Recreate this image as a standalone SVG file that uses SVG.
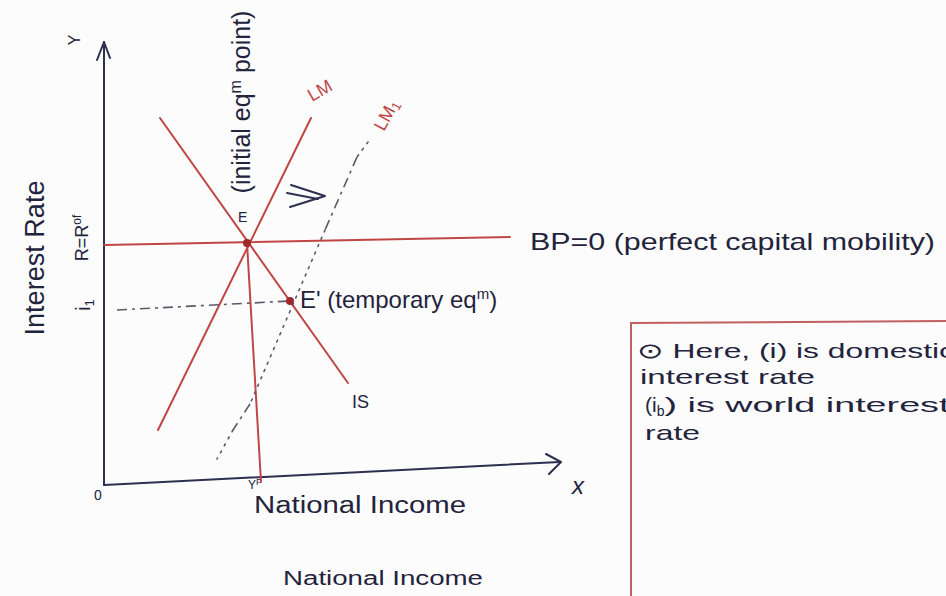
<svg xmlns="http://www.w3.org/2000/svg" width="946" height="596" viewBox="0 0 946 596">
<style>
.ax{stroke:#2d3050;stroke-width:2;fill:none;stroke-linecap:round;stroke-linejoin:round}
.rd{stroke:#c04545;stroke-width:2;fill:none;stroke-linecap:round}
.dt{stroke:#5a5a6a;stroke-width:1.6;fill:none;stroke-dasharray:2 6;stroke-linecap:round}
.ds{stroke:#5a5a6a;stroke-width:1.6;fill:none;stroke-dasharray:10 5 3 5}
.t{font-family:"Liberation Sans","DejaVu Sans",sans-serif;fill:#23233c}
.tr{font-family:"Liberation Sans","DejaVu Sans",sans-serif;fill:#c04545}
</style>
<rect width="946" height="596" fill="#fcfcfc"/>
<g id="axes">
<path class="ax" d="M104,485 L104,42"/>
<path class="ax" d="M97,60 L104,42 L110,58"/>
<path class="ax" d="M104,485 L560,462"/>
<path class="ax" d="M546,454 L561,462 L549,474"/>
<text class="t" font-size="16" transform="translate(80,40) rotate(-90)" text-anchor="middle">Y</text>
<text class="t" font-size="14" x="94" y="500">0</text>
<text class="t" font-size="24" x="572" y="494" font-style="italic">x</text>
<text class="t" font-size="12" x="248" y="489">Y<tspan font-size="9" dy="-4">F</tspan></text>
<text class="t" font-size="23" x="254" y="513" textLength="212" lengthAdjust="spacingAndGlyphs">National Income</text>
<text class="t" font-size="20" x="283" y="585" textLength="200" lengthAdjust="spacingAndGlyphs">National Income</text>
<text class="t" font-size="27" transform="translate(44,258) rotate(-90)" text-anchor="middle" textLength="155" lengthAdjust="spacingAndGlyphs">Interest Rate</text>
<text class="t" font-size="18" transform="translate(88,238) rotate(-90)" text-anchor="middle">R=R<tspan font-size="12" dy="-7">of</tspan></text>
<text class="t" font-size="20" transform="translate(90,305) rotate(-90)" text-anchor="middle">i<tspan font-size="13" dy="4">1</tspan></text>
</g>
<g id="connectors">
<path class="rd" d="M104,245 L510,237"/>
<path class="rd" d="M160,118 L348,383"/>
<path class="rd" d="M158,430 L311,118"/>
<path class="rd" d="M247,243 L261,482"/>
<path class="ds" d="M117,310 L290,301"/>
<path class="ds" d="M357,157 L325,230"/>
<path class="dt" d="M368,142 L357,157 M325,230 L250,404"/>
<path class="ds" d="M250,404 L233,430"/>
<path class="dt" d="M233,430 L217,459"/>
<path class="ax" d="M291,185 L325,196 L290,207"/>
<path class="ax" d="M287,193 L318,199"/>
</g>
<g id="E">
<circle cx="247" cy="243" r="4" fill="#a02828"/>
<text class="t" font-size="14" x="238" y="222">E</text>
<text class="t" font-size="25" transform="translate(250,102) rotate(-90)" text-anchor="middle">(initial eq<tspan font-size="16" dy="-9">m</tspan><tspan dy="9"> point)</tspan></text>
</g>
<g id="E1">
<circle cx="290" cy="301" r="4" fill="#a02828"/>
<text class="t" font-size="24" x="300" y="308">E' (temporary eq<tspan font-size="15" dy="-9">m</tspan><tspan dy="9">)</tspan></text>
</g>
<g id="IS"><text class="t" font-size="18" x="352" y="408">IS</text></g>
<g id="LM"><text class="tr" font-size="18" transform="translate(312,102) rotate(-30)">LM</text></g>
<g id="LM1"><text class="tr" font-size="18" transform="translate(384,132) rotate(-62)">LM<tspan font-size="13" dy="3">1</tspan></text></g>
<g id="BP"><text class="t" font-size="24" x="530" y="250" textLength="405" lengthAdjust="spacingAndGlyphs">BP=0 (perfect capital mobility)</text></g>
<g id="note">
<path d="M631,596 L631,323 L946,321" fill="none" stroke="#c06060" stroke-width="2"/>
<text class="t" font-size="21" x="637" y="358" textLength="318" lengthAdjust="spacingAndGlyphs">⊙ Here, (i) is domestic</text>
<text class="t" font-size="21" x="640" y="384" textLength="175" lengthAdjust="spacingAndGlyphs">interest rate</text>
<text class="t" font-size="21" x="645" y="412">(i<tspan font-size="14" dy="4">b</tspan><tspan dy="-4" textLength="285" lengthAdjust="spacingAndGlyphs">) is world interest</tspan></text>
<text class="t" font-size="21" x="645" y="440" textLength="55" lengthAdjust="spacingAndGlyphs">rate</text>
</g>
</svg>
